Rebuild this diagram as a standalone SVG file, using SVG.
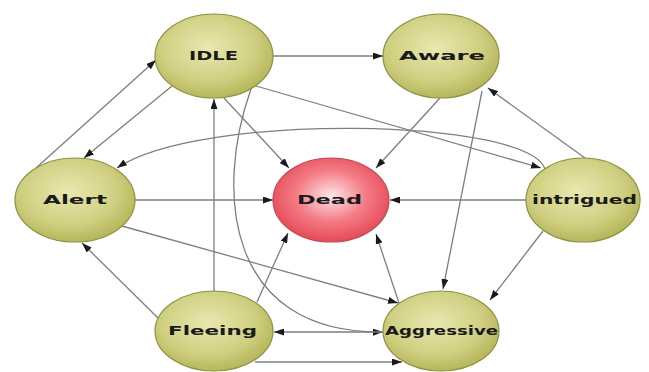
<svg xmlns="http://www.w3.org/2000/svg" width="649" height="372" viewBox="0 0 649 372">
<style>
.edge{fill:none;stroke:#7e7e7e;stroke-width:1.3;marker-end:url(#arr)}
.olive{fill:url(#gOlive);stroke:#8f8f45;stroke-width:1.2}
.red{fill:url(#gRed);stroke:#c04a55;stroke-width:1.2}
.lbl{font-family:"DejaVu Sans",sans-serif;font-weight:bold;font-size:12px;fill:#1a1a1a;text-anchor:middle}
</style>
<defs>
<radialGradient id="gOlive" cx="45%" cy="40%" r="65%">
<stop offset="0%" stop-color="#e8e8b0"/>
<stop offset="60%" stop-color="#d0d082"/>
<stop offset="100%" stop-color="#b0b052"/>
</radialGradient>
<radialGradient id="gRed" cx="50%" cy="45%" r="60%">
<stop offset="0%" stop-color="#fde6e8"/>
<stop offset="50%" stop-color="#f47c86"/>
<stop offset="100%" stop-color="#e2404e"/>
</radialGradient>
<marker id="arr" markerUnits="userSpaceOnUse" markerWidth="10" markerHeight="7" refX="10" refY="3.5" orient="auto">
<path d="M0,0 L10,3.5 L0,7 z" fill="#1a1a1a"/>
</marker>
</defs>
<rect width="649" height="372" fill="#ffffff"/>
<g id="connectors">
<line class="edge" x1="273" y1="56" x2="383" y2="56"/>
<line class="edge" x1="36" y1="168" x2="156" y2="60"/>
<line class="edge" x1="172" y1="86" x2="84" y2="158"/>
<path class="edge" d="M545,169 C528,118 200,112 117,168"/>
<line class="edge" x1="135" y1="200" x2="273" y2="200"/>
<line class="edge" x1="122" y1="226" x2="398" y2="303"/>
<line class="edge" x1="158" y1="318" x2="82" y2="243"/>
<line class="edge" x1="214" y1="291" x2="214" y2="99"/>
<line class="edge" x1="224" y1="98" x2="289" y2="168"/>
<line class="edge" x1="440" y1="98" x2="376" y2="168"/>
<line class="edge" x1="526" y1="200" x2="390" y2="200"/>
<line class="edge" x1="257" y1="302" x2="288" y2="233"/>
<line class="edge" x1="399" y1="303" x2="376" y2="234"/>
<line class="edge" x1="256" y1="86" x2="541" y2="168"/>
<line class="edge" x1="585" y1="158" x2="488" y2="88"/>
<line class="edge" x1="482" y1="91" x2="443" y2="289"/>
<line class="edge" x1="543" y1="231" x2="490" y2="300"/>
<path class="edge" d="M251,89 C215,190 225,334 383,332"/>
<line class="edge" x1="383" y1="332" x2="274" y2="332"/>
<line class="edge" x1="255" y1="362" x2="402" y2="362"/>
</g>
<g id="node-idle"><ellipse class="olive" cx="214" cy="56" rx="59" ry="42"/><text class="lbl" x="213.5" y="60" textLength="49" lengthAdjust="spacingAndGlyphs">IDLE</text></g>
<g id="node-aware"><ellipse class="olive" cx="441" cy="56" rx="58" ry="42"/><text class="lbl" x="442" y="60" textLength="86" lengthAdjust="spacingAndGlyphs">Aware</text></g>
<g id="node-alert"><ellipse class="olive" cx="75" cy="200" rx="60" ry="42"/><text class="lbl" x="75" y="204" textLength="64" lengthAdjust="spacingAndGlyphs">Alert</text></g>
<g id="node-dead"><ellipse class="red" cx="331" cy="200" rx="58" ry="42"/><text class="lbl" x="329.5" y="204" textLength="65" lengthAdjust="spacingAndGlyphs">Dead</text></g>
<g id="node-intrigued"><ellipse class="olive" cx="583" cy="200" rx="57" ry="42"/><text class="lbl" x="584.5" y="204" textLength="105" lengthAdjust="spacingAndGlyphs">intrigued</text></g>
<g id="node-fleeing"><ellipse class="olive" cx="214" cy="331" rx="59" ry="40"/><text class="lbl" x="212.5" y="335" textLength="89" lengthAdjust="spacingAndGlyphs">Fleeing</text></g>
<g id="node-aggressive"><ellipse class="olive" cx="441" cy="331" rx="58" ry="40"/><text class="lbl" x="441.5" y="335" textLength="113" lengthAdjust="spacingAndGlyphs">Aggressive</text></g>
</svg>
